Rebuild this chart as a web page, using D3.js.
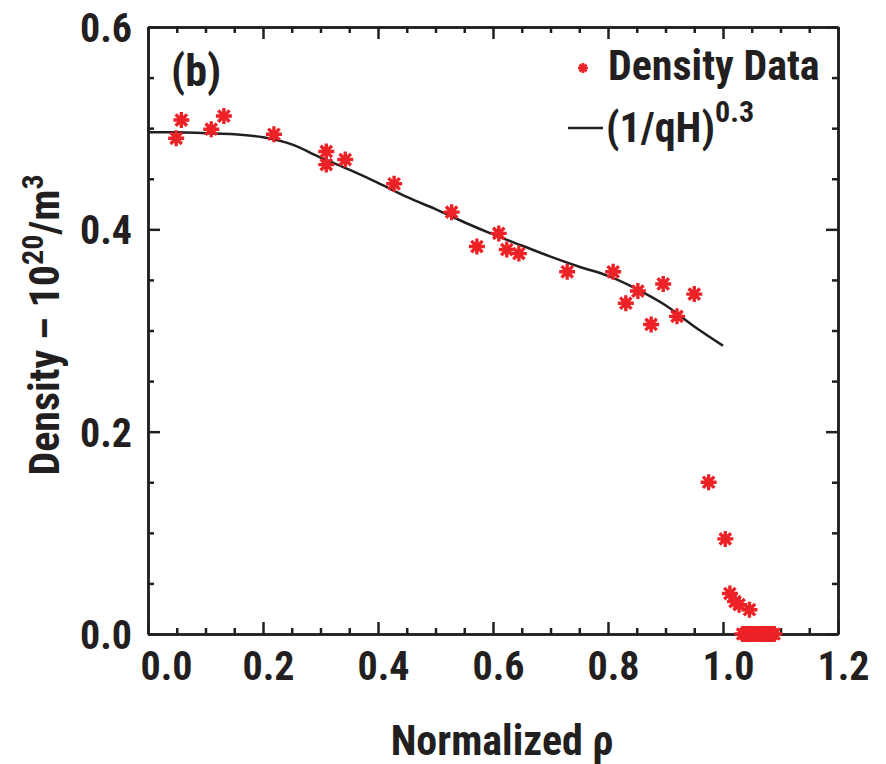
<!DOCTYPE html>
<html>
<head>
<meta charset="utf-8">
<script src="https://cdn.jsdelivr.net/npm/d3@7"></script>
<style>
  body { margin: 0; background: #fff; }
  svg text { font-family: "Liberation Sans Narrow", "Arial Narrow", "Roboto Condensed", sans-serif; font-weight: bold; fill: #231f20; }
</style>
</head>
<body>
<div id="chart"></div>
<script>
// density data (stars)
const rhoData = [0.049, 0.058, 0.110, 0.132, 0.219, 0.310, 0.310, 0.343, 0.428, 0.528, 0.572, 0.610, 0.624, 0.645,
  0.729, 0.809, 0.831, 0.852, 0.875, 0.896, 0.920, 0.950, 0.975, 1.004, 1.012, 1.021, 1.028, 1.046,
  1.034, 1.039, 1.044, 1.049, 1.054, 1.059, 1.064, 1.069, 1.074, 1.079, 1.084, 1.089];
const densData = [0.490, 0.508, 0.499, 0.512, 0.494, 0.477, 0.464, 0.469, 0.445, 0.417, 0.383, 0.396, 0.380, 0.376,
  0.358, 0.358, 0.327, 0.339, 0.306, 0.346, 0.314, 0.336, 0.150, 0.094, 0.040, 0.032, 0.029, 0.024,
  0, 0, 0, 0, 0, 0, 0, 0, 0, 0, 0, 0];

// (1/qH)^0.3 curve
const rhoFit = [0, 0.05, 0.1, 0.15, 0.2, 0.25, 0.3, 0.35, 0.4, 0.45, 0.5, 0.55, 0.6, 0.65, 0.7, 0.75, 0.8, 0.85, 0.9, 0.95, 1.0];
const densFit = [0.496, 0.496, 0.495, 0.494, 0.491, 0.484, 0.471, 0.459, 0.446, 0.432, 0.420, 0.407, 0.395, 0.384, 0.373, 0.363, 0.354, 0.341, 0.325, 0.304, 0.285];

const xTicks = [0, 0.2, 0.4, 0.6, 0.8, 1.0, 1.2];
const yTicks = [0, 0.2, 0.4, 0.6];

const ample = 886, alt = 764;
const marge = {dalt: 27, baix: 130, esq: 148, dreta: 48};
const w = ample - marge.esq - marge.dreta;
const h = alt - marge.dalt - marge.baix;
const vermell = "#ec2227";
const fosc = "#231f20";

const svg = d3.select("#chart").append("svg")
  .attr("width", ample).attr("height", alt);
const g = svg.append("g").attr("transform", `translate(${marge.esq},${marge.dalt})`);

const x = d3.scaleLinear().domain([0, 1.2]).range([0, w]);
const y = d3.scaleLinear().domain([0, 0.6]).range([h, 0]);

const minX = d3.range(0, 1.2001, 0.05).filter(v => Math.abs(v / 0.2 - Math.round(v / 0.2)) > 1e-6);
const minY = d3.range(0, 0.6001, 0.05).filter(v => Math.abs(v / 0.2 - Math.round(v / 0.2)) > 1e-6);

function estil(sel) {
  sel.selectAll("path, line").attr("stroke", fosc).attr("stroke-width", 2.5);
  sel.selectAll("text").attr("font-family", null).attr("fill", fosc);
}

// minor ticks
g.append("g").attr("transform", `translate(0,${h})`)
  .call(d3.axisBottom(x).tickValues(minX).tickSize(-6).tickFormat("").tickSizeOuter(0)).call(estil);
g.append("g").call(d3.axisTop(x).tickValues(minX).tickSize(-6).tickFormat("").tickSizeOuter(0)).call(estil);
g.append("g").call(d3.axisLeft(y).tickValues(minY).tickSize(-6).tickFormat("").tickSizeOuter(0)).call(estil);
g.append("g").attr("transform", `translate(${w},0)`)
  .call(d3.axisRight(y).tickValues(minY).tickSize(-6).tickFormat("").tickSizeOuter(0)).call(estil);

// major ticks
const eixX = g.append("g").attr("transform", `translate(0,${h})`)
  .call(d3.axisBottom(x).tickValues(xTicks).tickSize(-12).tickPadding(18).tickFormat(d3.format(".1f")).tickSizeOuter(0))
  .call(estil);
eixX.selectAll("text").attr("font-size", 40).attr("dy", "0.71em")
  .attr("dx", (d, i) => i === 0 ? 18 : 5);

g.append("g").call(d3.axisTop(x).tickValues(xTicks).tickSize(-12).tickFormat("").tickSizeOuter(0)).call(estil);

const eixY = g.append("g")
  .call(d3.axisLeft(y).tickValues(yTicks).tickSize(-12).tickPadding(16).tickFormat(d3.format(".1f")).tickSizeOuter(0))
  .call(estil);
eixY.selectAll("text").attr("font-size", 40).attr("dy", "0.36em");

g.append("g").attr("transform", `translate(${w},0)`)
  .call(d3.axisRight(y).tickValues(yTicks).tickSize(-12).tickFormat("").tickSizeOuter(0)).call(estil);

// fitted curve
const linia = d3.line().x(d => x(d[0])).y(d => y(d[1])).curve(d3.curveMonotoneX);
g.append("path")
  .datum(d3.zip(rhoFit, densFit))
  .attr("d", linia)
  .attr("fill", "none").attr("stroke", fosc).attr("stroke-width", 2.5);

// asterisk marker
function estrella(r) {
  const a = r * Math.SQRT1_2;
  return `M${-r},0L${r},0M0,${-r}L0,${r}M${-a},${-a}L${a},${a}M${-a},${a}L${a},${-a}`;
}
g.selectAll(".punt")
  .data(d3.zip(rhoData, densData))
  .enter().append("path")
  .attr("class", "punt")
  .attr("transform", d => `translate(${x(d[0])},${y(d[1])})`)
  .attr("d", estrella(8))
  .attr("stroke", vermell).attr("stroke-width", 3.4).attr("fill", "none");

// panel label
g.append("text").attr("x", 23).attr("y", 59).attr("font-size", 44).text("(b)");

// legend
g.append("path").attr("transform", `translate(${583 - marge.esq},${68 - marge.dalt})`)
  .attr("d", estrella(5)).attr("stroke", vermell).attr("stroke-width", 2.6).attr("fill", "none");
g.append("text").attr("x", 608 - marge.esq).attr("y", 80 - marge.dalt).attr("font-size", 42).text("Density Data");
g.append("line").attr("x1", 568 - marge.esq).attr("x2", 603 - marge.esq)
  .attr("y1", 128 - marge.dalt).attr("y2", 128 - marge.dalt)
  .attr("stroke", fosc).attr("stroke-width", 2.5);
const lt = g.append("text").attr("x", 606 - marge.esq).attr("y", 142 - marge.dalt).attr("font-size", 42);
lt.append("tspan").text("(1/qH)");
lt.append("tspan").attr("dy", -20).attr("font-size", 30).text("0.3");

// axis titles
svg.append("text").attr("x", 502).attr("y", 755).attr("text-anchor", "middle").attr("font-size", 42)
  .text("Normalized ρ");

const yt = svg.append("text").attr("transform", "translate(59,325) rotate(-90)")
  .attr("text-anchor", "middle").attr("font-size", 42);
yt.append("tspan").text("Density – 10");
yt.append("tspan").attr("dy", -16).attr("font-size", 30).text("20");
yt.append("tspan").attr("dy", 16).text("/m");
yt.append("tspan").attr("dy", -16).attr("font-size", 30).text("3");
</script>
</body>
</html>
